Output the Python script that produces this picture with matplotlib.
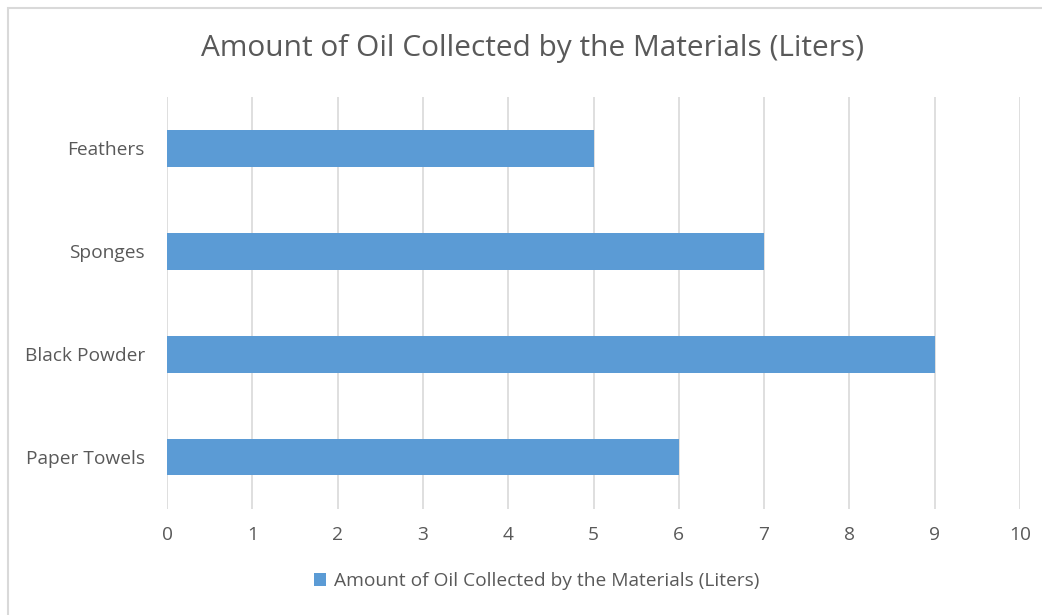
import matplotlib.pyplot as plt
from matplotlib.patches import Rectangle

materials = ["Paper Towels", "Black Powder", "Sponges", "Feathers"]
oil_liters = [6, 9, 7, 5]
series_name = "Amount of Oil Collected by the Materials (Liters)"

blue = "#5B9BD5"
text_gray = "#595959"
grid_gray = "#D9D9D9"

plt.rcParams["font.family"] = ["Open Sans", "DejaVu Sans"]

fig = plt.figure(figsize=(10.42, 6.15), dpi=100)
ax = fig.add_axes([0.1603, 0.1724, 0.8186, 0.6699])

ax.barh(materials, oil_liters, height=0.35, color=blue, label=series_name, zorder=3)

ax.set_xlim(0, 10)
ax.set_ylim(-0.5, 3.5)
ax.set_xticks(range(0, 11))
ax.xaxis.grid(True, color=grid_gray, linewidth=1.2, zorder=0)
ax.tick_params(axis="both", length=0, labelsize=13.8, colors=text_gray)
ax.tick_params(axis="x", pad=12)
ax.tick_params(axis="y", pad=16)
for s in ax.spines.values():
    s.set_visible(False)

fig.suptitle(series_name, x=0.511, y=0.945, fontsize=21.5, color=text_gray)

leg = fig.legend(loc="center", bbox_to_anchor=(0.515, 0.055), frameon=False,
                 fontsize=13.8, handlelength=0.6, handleheight=0.6, handletextpad=0.4)
for t in leg.get_texts():
    t.set_color(text_gray)

# outer chart border, cut off on the right and bottom
fig.patches.append(Rectangle((8 / 1042, -0.1), 1.2, 0.1 + (615 - 8) / 615,
                             transform=fig.transFigure, fill=False,
                             edgecolor="#D9D9D9", linewidth=1.5))

fig.savefig("out.png", dpi=100)
